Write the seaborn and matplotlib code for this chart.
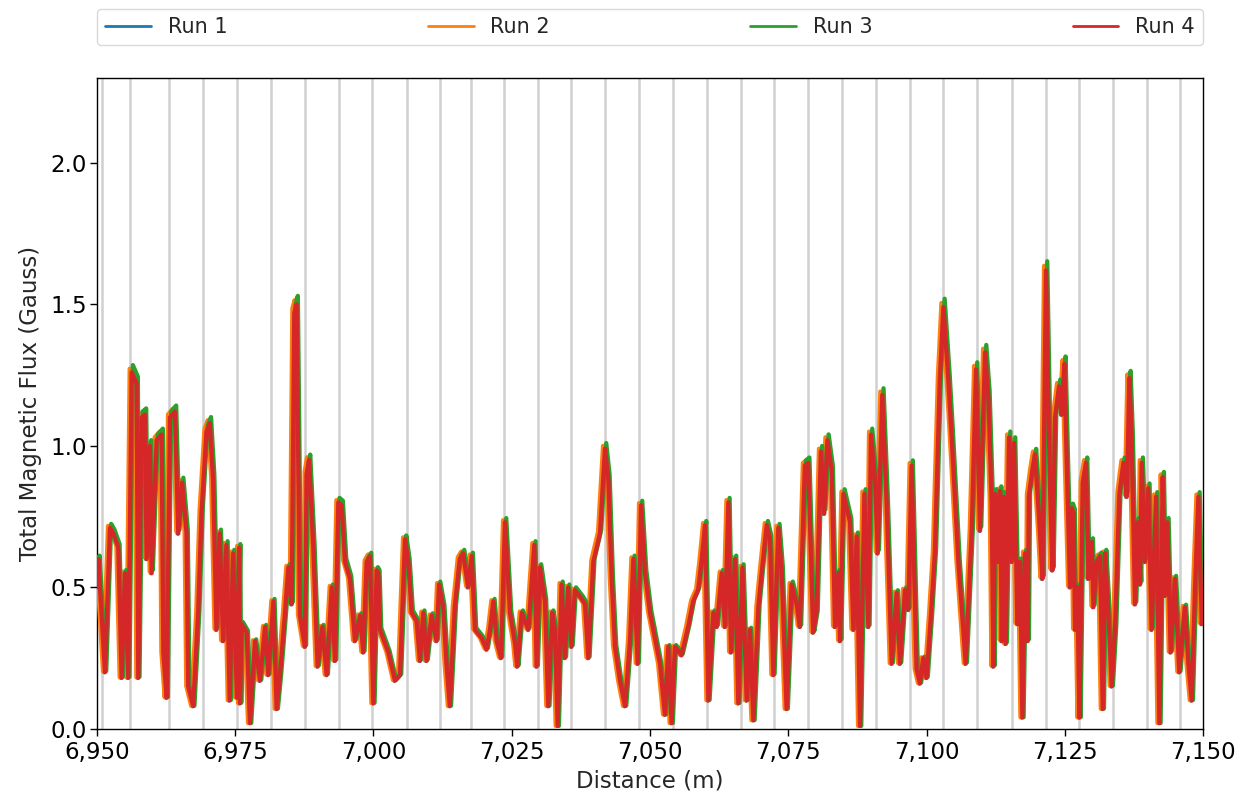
import numpy as np
import pandas as pd
import matplotlib
matplotlib.use("Agg")
import matplotlib.pyplot as plt
import seaborn as sns
from matplotlib.ticker import FuncFormatter

# ---------------- data ----------------
DIST_START = 6950
# distance offsets (m) from 6950 and flux readings (Gauss) of the common trace
offset_m = [
    0.0, 0.24, 1.45, 2.35, 2.95, 3.86, 4.46, 5.06, 5.66, 6.27, 7.17, 7.47, 8.08, 8.68, 8.98,
    9.58, 9.88, 10.79, 11.69, 12.0, 12.6, 13.2, 14.1, 14.7, 15.4, 16.2, 16.5, 17.4, 18.3, 18.9,
    19.8, 20.4, 21.0, 21.6, 22.2, 22.8, 23.4, 24.0, 24.6, 25.3, 25.7, 25.86, 26.16, 27.07, 27.67,
    28.57, 29.48, 30.38, 30.98, 31.89, 32.49, 33.09, 34.0, 34.6, 35.2, 35.68, 36.1, 36.7, 37.6, 37.9,
    38.34, 39.12, 39.9, 40.75, 41.53, 42.44, 43.04, 43.64, 44.24, 44.85, 45.75, 46.65, 47.56, 48.16, 48.76,
    49.37, 49.97, 50.57, 50.87, 51.18, 52.68, 53.89, 54.79, 55.7, 56.3, 56.9, 57.8, 58.4, 59.0, 59.6,
    60.5, 61.4, 61.85, 62.6, 63.2, 63.8, 64.7, 65.6, 66.2, 67.1, 67.75, 68.35, 69.56, 70.46, 71.07,
    71.67, 72.27, 73.06, 73.78, 74.68, 75.6, 76.0, 76.8, 78.0, 79.08, 79.5, 80.1, 81.0, 81.6, 82.3,
    82.8, 83.3, 84.0, 84.6, 85.2, 85.8, 86.4, 87.6, 88.25, 88.85, 89.75, 90.96, 91.86, 92.47, 93.07,
    93.67, 94.58, 95.48, 96.38, 96.99, 97.77, 98.37, 99.1, 100.0, 100.9, 101.8, 102.7, 103.3, 103.9, 104.5,
    105.7, 106.9, 107.8, 108.7, 109.3, 109.95, 110.55, 111.45, 112.06, 112.96, 113.56, 114.17, 114.65, 115.37, 115.97,
    116.7, 117.48, 118.08, 118.69, 119.59, 120.19, 121.1, 121.7, 122.3, 123.2, 123.8, 124.7, 125.6, 126.5, 127.1,
    128.0, 128.6, 129.5, 130.1, 130.9, 131.5, 132.07, 132.85, 133.45, 134.06, 134.36, 134.96, 135.56, 136.17, 136.77,
    137.37, 137.97, 138.76, 139.48, 139.96, 140.69, 141.17, 142.0, 142.8, 143.7, 144.6, 145.2, 146.1, 146.7, 147.3,
    148.2, 148.8, 149.4, 150.0, 150.8, 151.5, 152.4, 153.05, 153.95, 154.55, 155.76, 157.08, 158.17, 158.95, 159.67,
    160.58, 161.18, 161.78, 162.09, 162.39, 162.99, 163.29, 163.6, 163.9, 164.32, 164.92, 165.4, 165.82, 166.43, 166.9,
    167.33, 167.8, 168.29, 168.5, 169.1, 169.6, 170.5, 170.95, 171.6, 172.3, 172.76, 173.24, 173.96, 174.44, 174.92,
    175.35, 175.95, 176.25, 176.6, 176.85, 177.27, 177.64, 178.24, 178.84, 179.27, 179.87, 180.17, 180.77, 181.37, 181.86,
    182.28, 182.88, 183.48, 184.09, 184.87, 185.6, 186.2, 186.68, 187.1, 187.7, 188.19, 188.6, 188.9, 189.5, 190.1,
    190.7, 191.5, 192.1, 192.7, 193.1, 193.55, 194.15, 194.9, 195.7, 196.7, 197.35, 197.95, 198.55, 199.16, 199.76,
    200.0,
]
flux = [
    0.50, 0.60, 0.20, 0.71, 0.69, 0.64, 0.18, 0.55, 0.18, 1.26, 1.22, 0.18, 1.10, 1.11, 0.60,
    1.00, 0.55, 1.02, 1.04, 0.27, 0.11, 1.10, 1.12, 0.69, 0.87, 0.69, 0.15, 0.08, 0.41, 0.76,
    1.05, 1.08, 0.88, 0.35, 0.69, 0.31, 0.65, 0.10, 0.62, 0.11, 0.64, 0.09, 0.37, 0.34, 0.02,
    0.31, 0.17, 0.36, 0.19, 0.45, 0.07, 0.19, 0.41, 0.57, 0.44, 1.47, 1.50, 0.40, 0.29, 0.90,
    0.95, 0.64, 0.22, 0.36, 0.19, 0.50, 0.24, 0.80, 0.79, 0.59, 0.53, 0.31, 0.40, 0.27, 0.59,
    0.61, 0.09, 0.56, 0.55, 0.35, 0.27, 0.17, 0.19, 0.67, 0.59, 0.41, 0.38, 0.24, 0.41, 0.24,
    0.40, 0.31, 0.51, 0.43, 0.23, 0.08, 0.43, 0.60, 0.62, 0.50, 0.61, 0.35, 0.32, 0.28, 0.35,
    0.45, 0.31, 0.25, 0.73, 0.41, 0.30, 0.22, 0.41, 0.35, 0.65, 0.22, 0.57, 0.45, 0.08, 0.41,
    0.35, 0.01, 0.51, 0.25, 0.50, 0.29, 0.49, 0.46, 0.44, 0.25, 0.59, 0.69, 0.99, 0.88, 0.53,
    0.29, 0.17, 0.08, 0.31, 0.60, 0.23, 0.79, 0.55, 0.41, 0.32, 0.23, 0.05, 0.29, 0.02, 0.29,
    0.26, 0.36, 0.45, 0.49, 0.59, 0.72, 0.10, 0.41, 0.36, 0.55, 0.36, 0.80, 0.27, 0.60, 0.09,
    0.57, 0.10, 0.35, 0.03, 0.43, 0.55, 0.72, 0.67, 0.19, 0.71, 0.56, 0.07, 0.51, 0.44, 0.36,
    0.93, 0.94, 0.34, 0.41, 0.98, 0.76, 1.02, 0.91, 0.36, 0.55, 0.31, 0.83, 0.78, 0.73, 0.35,
    0.68, 0.01, 0.83, 0.36, 1.04, 0.88, 0.62, 1.18, 0.79, 0.23, 0.48, 0.23, 0.49, 0.42, 0.93,
    0.21, 0.16, 0.25, 0.18, 0.40, 0.62, 1.23, 1.49, 1.23, 1.03, 0.59, 0.23, 0.70, 1.27, 0.70,
    1.33, 1.17, 0.80, 0.22, 0.83, 0.59, 0.84, 0.31, 0.82, 0.30, 1.03, 0.59, 1.01, 0.37, 0.59,
    0.04, 0.62, 0.31, 0.82, 0.91, 0.97, 0.70, 0.53, 1.62, 0.87, 0.56, 1.10, 1.21, 1.11, 1.29,
    0.94, 0.50, 0.78, 0.76, 0.35, 0.50, 0.04, 0.87, 0.94, 0.53, 0.66, 0.43, 0.59, 0.61, 0.07,
    0.62, 0.41, 0.15, 0.36, 0.83, 0.94, 0.82, 1.24, 1.01, 0.44, 0.73, 0.51, 0.94, 0.59, 0.85,
    0.35, 0.82, 0.02, 0.89, 0.47, 0.73, 0.27, 0.53, 0.20, 0.43, 0.23, 0.10, 0.50, 0.82, 0.37,
    0.40,
]
runs = ["Run 1", "Run 2", "Run 3", "Run 4"]
run_shift_m = [-0.12, -0.35, 0.22, 0.0]     # along-track misalignment of each run
run_gain = [1.00, 1.01, 1.02, 1.00]          # relative amplitude of each run
colors = ["#1f77b4", "#ff7f0e", "#2ca02c", "#d62728"]

# positions of the vertical reference lines (m)
marker_lines = [6950.96, 6955.97, 6963.0, 6969.2, 6975.4, 6981.5, 6987.6, 6993.8, 6999.7,
                7006.0, 7012.0, 7017.6, 7023.6, 7029.7, 7035.7, 7041.9, 7048.0, 7054.2,
                7060.3, 7066.5, 7072.4, 7078.6, 7084.7, 7090.9, 7097.0, 7103.0, 7109.1,
                7115.4, 7121.6, 7127.6, 7133.7, 7139.8, 7145.8]

x_ticks = [6950, 6975, 7000, 7025, 7050, 7075, 7100, 7125, 7150]
y_ticks = [0.0, 0.5, 1.0, 1.5, 2.0]

# ---------------- build long table ----------------
frames = []
for name, sh, g in zip(runs, run_shift_m, run_gain):
    frames.append(pd.DataFrame({
        "Distance": DIST_START + np.asarray(offset_m) + sh,
        "Flux": np.asarray(flux) * g,
        "Run": name,
    }))
df = pd.concat(frames, ignore_index=True)

# ---------------- plot ----------------
sns.set_theme(style="white")
plt.rcParams["font.family"] = ["DejaVu Sans"]

fig = plt.figure(figsize=(12.48, 8.0), dpi=100)
ax = fig.add_axes([0.0777, 0.089, 0.8863, 0.8135])

for xv in marker_lines:
    ax.axvline(xv, color="#d0d0d0", lw=1.8, zorder=1)

sns.lineplot(data=df, x="Distance", y="Flux", hue="Run", hue_order=runs,
             palette=colors, estimator=None, sort=False, lw=3.1, ax=ax, zorder=3)

ax.set_xlim(6950, 7150)
ax.set_ylim(0, 2.3)
ax.set_xticks(x_ticks)
ax.set_yticks(y_ticks)
ax.xaxis.set_major_formatter(FuncFormatter(lambda v, _: f"{v:,.0f}"))
ax.yaxis.set_major_formatter(FuncFormatter(lambda v, _: f"{v:.1f}"))
ax.tick_params(axis="both", labelsize=16.5, length=5, width=1.0, direction="out",
               bottom=True, left=True, colors="black", pad=2)
ax.tick_params(axis="x", pad=4)
ax.set_xlabel("Distance (m)", fontsize=16.5, labelpad=4)
ax.set_ylabel("Total Magnetic Flux (Gauss)", fontsize=16.5, labelpad=6)
for sp in ax.spines.values():
    sp.set_color("black")
    sp.set_linewidth(1.0)

ax.legend(loc="lower left", bbox_to_anchor=(0.0, 1.05, 1.0, 0.06), mode="expand",
          ncol=4, fontsize=15, frameon=True, edgecolor="#d0d0d0", fancybox=True,
          borderaxespad=0.0, handlelength=2.2)
for line in ax.get_legend().get_lines():
    line.set_linewidth(2.0)

fig.savefig("out.png", dpi=100, facecolor="white")
